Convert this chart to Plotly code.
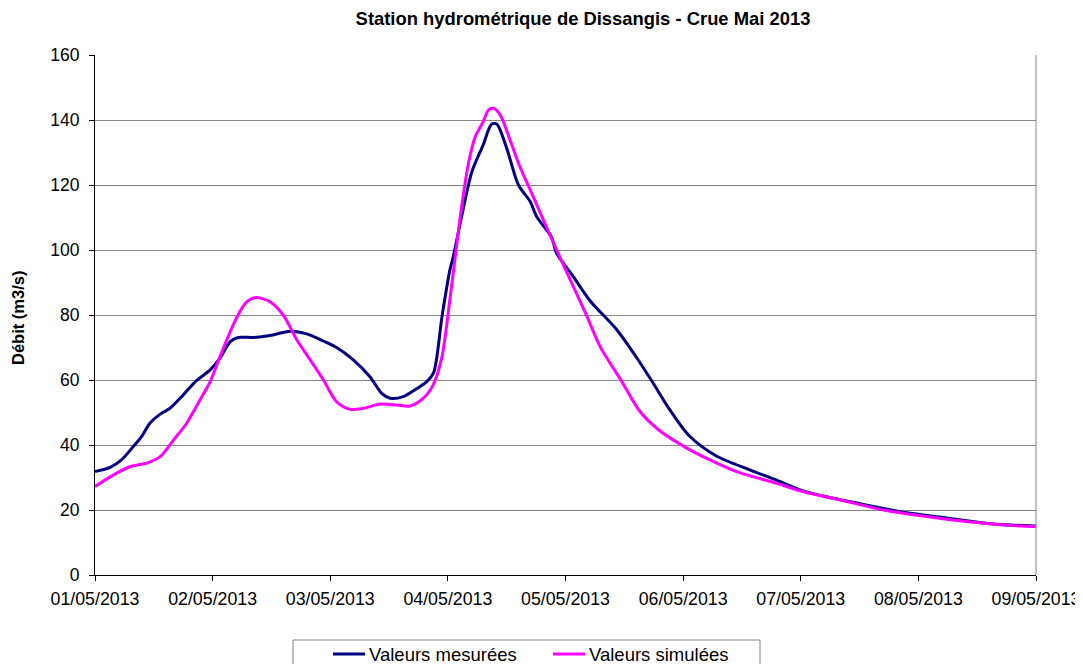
import plotly.graph_objects as go
import pandas as pd

start = pd.Timestamp("2013-05-01 00:00")

# Measured series (hours since 01/05/2013 00:00, discharge m3/s)
mes_hours = [0, 3.1, 5.4, 7.8, 9.5, 11.2, 13.3, 15.3, 18, 20.7, 23.5, 25.5, 27.6, 29.2, 32.3,
             35.7, 39.8, 43.2, 46.6, 49.3, 52.7, 56.1, 58.5, 60.2, 62.9, 65.7, 67.7, 69.1,
             70.8, 72.4, 73.1, 74.8, 76.9, 79.2, 80.9, 82.0, 84.0, 86.4, 88.8, 90.1, 93.1,
             94.2, 97.6, 101.0, 106.5, 110.6, 113.9, 117.3, 121.4, 126.8, 133.7, 139.1,
             144.6, 150.7, 157.5, 164.3, 173.1, 183.3, 191.8, 192]
mes_values = [31.8, 33.1, 35.4, 39.5, 42.6, 46.7, 49.5, 51.3, 55.4, 59.8, 63.1, 66.7, 71.8, 73.1, 73.1,
              73.7, 75.0, 74.2, 72.0, 70.0, 66.2, 61.0, 55.9, 54.4, 54.9, 57.4, 59.5, 62.3,
              79.5, 93.8, 97.9, 110.3, 124.1, 132.3, 138.7, 138.7, 131.3, 120.0, 114.9, 110.3, 104.1,
              99.0, 91.8, 84.4, 75.4, 66.7, 59.0, 50.8, 42.6, 36.6, 32.3, 29.2,
              25.8, 23.6, 21.5, 19.5, 17.7, 15.7, 15.1, 15.1]

# Simulated series
sim_hours = [0, 3.1, 7.1, 10.9, 13.3, 16.0, 18.7, 21.4, 23.5, 25.5, 27.6, 29.4, 30.6, 31.8, 33.0, 35.7,
             38.4, 41.2, 43.9, 46.6, 49.3, 52.0, 54.8, 58.2, 61.6, 64.3, 67.0, 69.0, 70.8,
             72.4, 73.5, 74.8, 76.2, 77.6, 79.2, 80.3, 81.3, 82.7, 84.7, 86.7, 88.8, 91.5,
             94.2, 97.6, 100.4, 103.1, 107.5, 111.2, 115.3, 121.4, 125.5, 130.9, 139.1,
             144.6, 152.1, 160.9, 171.1, 181.3, 191.8, 192]
sim_values = [27.2, 30.2, 33.3, 34.6, 36.4, 41.5, 46.7, 53.8, 59.5, 67.2, 74.9, 80.6, 83.5, 84.9, 85.4, 84.1,
              80.0, 72.3, 66.2, 60.0, 53.3, 51.0, 51.3, 52.6, 52.3, 52.0, 54.4, 58.5, 67.2,
              84.6, 97.9, 113.3, 126.7, 134.9, 139.5, 143.1, 143.6, 141.5, 133.8, 125.6, 118.5, 109.2,
              100.0, 88.7, 79.5, 70.2, 59.5, 50.3, 44.3, 38.5, 35.4, 31.8, 28.2,
              25.6, 23.1, 20.0, 17.7, 15.9, 14.9, 14.9]

series_names = ["Valeurs mesurées", "Valeurs simulées"]
series_colors = ["#000080", "#FF00FF"]

tick_dates = pd.date_range("2013-05-01", "2013-05-09", freq="D")
tick_labels = [d.strftime("%d/%m/%Y") for d in tick_dates]

mes_x = [start + pd.Timedelta(hours=h) for h in mes_hours]
sim_x = [start + pd.Timedelta(hours=h) for h in sim_hours]

font = "Liberation Sans, Arial, sans-serif"

# The page body has an 8px margin; size the figure so it fills the 1083x664 window.
OFF = 8
W, H = 1083 - OFF, 664 - OFF
L, R, T, B = 95 - OFF, 47, 55 - OFF, 89
PW, PH = W - L - R, H - T - B


def px_x(px):
    """window pixel x -> paper coordinate"""
    return (px - OFF - L) / PW


def px_y(py):
    """window pixel y -> paper coordinate"""
    return (H - B - (py - OFF)) / PH


fig = go.Figure()
for xs, ys, name, col in [(mes_x, mes_values, series_names[0], series_colors[0]),
                          (sim_x, sim_values, series_names[1], series_colors[1])]:
    fig.add_trace(go.Scatter(x=xs, y=ys, mode="lines", name=name, showlegend=False,
                             line=dict(color=col, width=3, shape="spline", smoothing=0.8)))

fig.update_layout(
    width=W, height=H,
    margin=dict(l=L, r=R, t=T, b=B, autoexpand=False),
    paper_bgcolor="white", plot_bgcolor="white",
    font=dict(family=font, size=18, color="black"),
    title=dict(text="<b>Station hydrométrique de Dissangis - Crue Mai 2013</b>",
               xref="container", yref="container",
               x=(583 - OFF) / W, xanchor="center", y=1 - (19 - OFF) / H, yanchor="middle",
               font=dict(family=font, size=18.4, color="black")),
    showlegend=False,
    xaxis=dict(range=[tick_dates[0], tick_dates[-1]], tickvals=list(tick_dates),
               ticktext=tick_labels, showgrid=False, showline=True, linecolor="black",
               linewidth=1, ticks="outside", ticklen=5, tickcolor="black",
               ticklabelstandoff=3,
               tickfont=dict(family=font, size=17.8), zeroline=False),
    yaxis=dict(range=[0, 160], dtick=20, showgrid=True, gridcolor="#868686", gridwidth=1,
               showline=True, linecolor="black", linewidth=1, ticks="outside", ticklen=5,
               tickcolor="black", ticklabelstandoff=6,
               tickfont=dict(family=font, size=17.5), zeroline=False),
)

# right border of plot area
fig.add_shape(type="line", xref="paper", yref="paper", x0=1, x1=1, y0=0, y1=1,
              line=dict(color="#868686", width=1))

# y-axis title
fig.add_annotation(text="<b>Débit (m3/s)</b>", xref="paper", yref="paper",
                   x=px_x(18), y=px_y(318), textangle=-90, showarrow=False,
                   xanchor="center", yanchor="middle",
                   font=dict(family=font, size=16.5, color="black"))

# legend box (drawn as shapes + text)
fig.add_shape(type="rect", xref="paper", yref="paper",
              x0=px_x(293), x1=px_x(760), y0=px_y(690), y1=px_y(640),
              line=dict(color="#808080", width=1), fillcolor="white")
legend_items = [(333, series_names[0], series_colors[0]), (553, series_names[1], series_colors[1])]
for lx, name, col in legend_items:
    fig.add_shape(type="line", xref="paper", yref="paper",
                  x0=px_x(lx), x1=px_x(lx + 32), y0=px_y(654), y1=px_y(654),
                  line=dict(color=col, width=3))
    fig.add_annotation(text=name, xref="paper", yref="paper", x=px_x(lx + 34), y=px_y(654),
                       xanchor="left", yanchor="middle", showarrow=False,
                       font=dict(family=font, size=18.5, color="black"))

fig.write_html("out.html")
